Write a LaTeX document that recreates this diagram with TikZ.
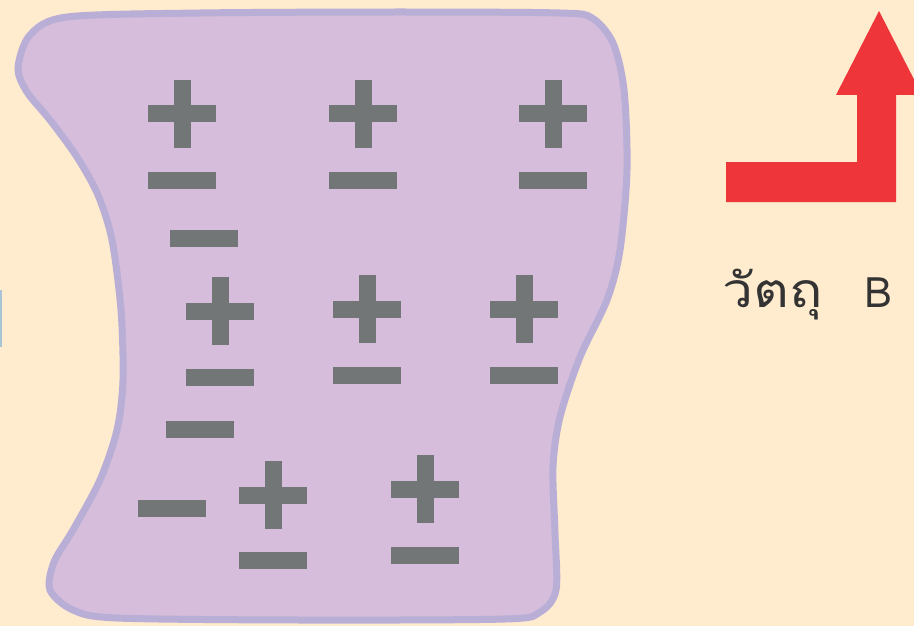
\documentclass[tikz,border=0pt]{standalone}
\usepackage{fontspec}
\newfontfamily\thaifont[Script=Thai]{Loma}
\newfontfamily\thaiwide[Script=Thai, FakeStretch=1.15]{Loma}
\usetikzlibrary{positioning}
\definecolor{PaperBg}{RGB}{255, 235, 206}
\definecolor{BlobFill}{RGB}{214, 189, 219}
\definecolor{BlobEdge}{RGB}{185, 174, 213}
\definecolor{ChargeGrey}{RGB}{115, 118, 119}
\definecolor{ArrowRed}{RGB}{238, 53, 57}
\definecolor{LabelGrey}{RGB}{51, 51, 51}
\definecolor{EdgeBlue}{RGB}{169, 196, 214}

\begin{document}
\begin{tikzpicture}[x=1pt, y=-1pt]
    % Background
    \fill[PaperBg] (0,0) rectangle (914,626);
    \useasboundingbox (0,0) rectangle (914,626);
    \clip (0,0) rectangle (914,626);
    \fill[EdgeBlue] (0,290) rectangle (1.5,347);

    % Object outline
    \draw[line width=7pt, BlobEdge, fill=BlobFill] plot[smooth cycle, tension=0.5] coordinates {
      (18,68) (30,35) (67,17) (200,13) (400,12) (560,13) (592,18) (613,43)
      (624,90) (627,170) (620,250) (607,300) (580,357) (560,417) (553,467)
      (555,533) (556,590) (540,612) (505,619) (300,620) (117,618) (73,610)
      (50,590) (54,562) (73,530) (100,480) (117,430) (123,380) (121,310)
      (112,240) (98,195) (77,157) (50,120) (27,92)};

    % Plus charges
    \foreach \x/\y in {182/114, 363/114, 553/114, 220/311, 367/309, 524/309, 273/495, 425/489} {
      \fill[ChargeGrey] (\x-34,\y-8.5) rectangle (\x+34,\y+8.5);
      \fill[ChargeGrey] (\x-8.5,\y-34) rectangle (\x+8.5,\y+34);
    }

    % Minus charges
    \foreach \x/\y in {182/180, 363/180, 553/180, 204/238, 220/377, 367/375, 524/375,
                       200/429, 172/508, 273/560, 425/555} {
      \fill[ChargeGrey] (\x-34,\y-8.5) rectangle (\x+34,\y+8.5);
    }

    % Arrow
    \fill[ArrowRed] (726,162) -- (857,162) -- (857,95) -- (836,95) -- (879,11)
      -- (922,95) -- (896,95) -- (896,202) -- (726,202) -- cycle;

    \node[anchor=base west, inner sep=0pt, text=LabelGrey,
      font=\thaifont\fontsize{42}{50}\selectfont] (labelB) at (722,307)
      {{\thaiwide\fontsize{48}{56}\selectfont วัตถุ}\hspace{42pt}B};
\end{tikzpicture}
\end{document}
